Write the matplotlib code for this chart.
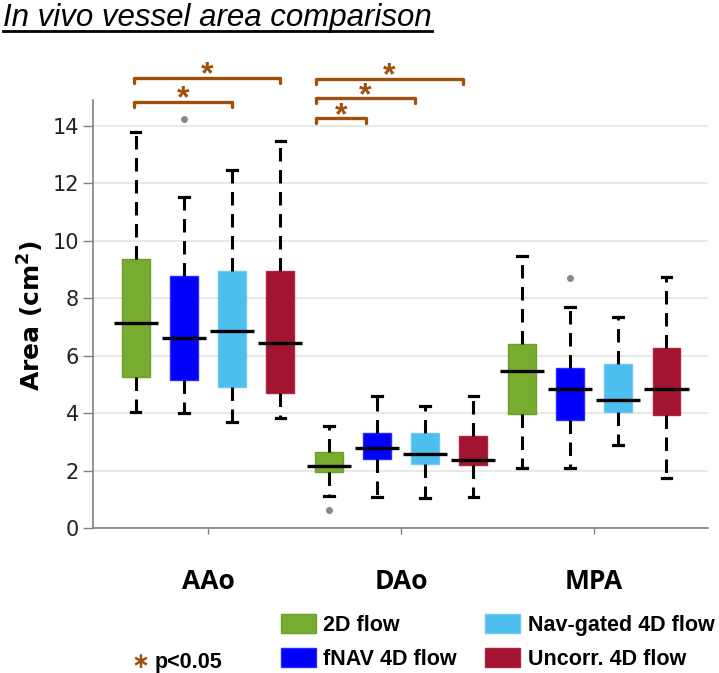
import matplotlib
matplotlib.use("Agg")
import matplotlib.pyplot as plt
from matplotlib.lines import Line2D
from matplotlib.patches import Rectangle

# ---------------- data ----------------
groups = ["AAo", "DAo", "MPA"]
series = ["2D flow", "fNAV 4D flow", "Nav-gated 4D flow", "Uncorr. 4D flow"]
colors = ["#77AC30", "#0000FF", "#4DBEEE", "#A2142F"]
edge_colors = ["#6C9E2A", "#2A2AFF", "#6CC8F0", "#B0243E"]

# per series: values for [AAo, DAo, MPA]
whislo = [[4.05, 1.10, 2.10], [4.00, 1.07, 2.10], [3.68, 1.03, 2.89], [3.82, 1.09, 1.75]]
q1 =     [[5.24, 1.95, 3.96], [5.14, 2.39, 3.76], [4.90, 2.24, 4.04], [4.69, 2.18, 3.94]]
med =    [[7.12, 2.15, 5.46], [6.63, 2.80, 4.85], [6.85, 2.57, 4.46], [6.43, 2.38, 4.85]]
q3 =     [[9.36, 2.66, 6.39], [8.77, 3.32, 5.56], [8.96, 3.30, 5.72], [8.95, 3.22, 6.28]]
whishi = [[13.79, 3.56, 9.48], [11.54, 4.59, 7.71], [12.47, 4.26, 7.33], [13.49, 4.59, 8.75]]
fliers = [[[], [0.62], []], [[14.24], [], [8.72]], [[], [], []], [[], [], []]]

yticks = [0, 2, 4, 6, 8, 10, 12, 14]

# significance brackets: (group index, series from, series to, level)
sig_brackets = [(0, 0, 2, 14.84), (0, 0, 3, 15.66),
                (1, 0, 1, 14.26), (1, 0, 2, 14.96), (1, 0, 3, 15.64)]
bracket_shift = [0.0, -0.055, 0.0]

# ---------------- layout ----------------
W, H = 719, 673
fig = plt.figure(figsize=(W / 100, H / 100), dpi=100)
ax = fig.add_axes([93 / W, 1 - 528 / H, (708 - 93) / W, (528 - 100) / H])

offsets = [-0.375, -0.125, 0.125, 0.375]
box_w = 0.145
med_w = 0.228
brown = "#9E500C"
px_per_unit = 28.71  # vertical pixels per data unit

for si in range(len(series)):
    stats = []
    pos = []
    for gi in range(len(groups)):
        stats.append(dict(med=med[si][gi], q1=q1[si][gi], q3=q3[si][gi],
                          whislo=whislo[si][gi], whishi=whishi[si][gi],
                          fliers=fliers[si][gi]))
        pos.append(gi + 1 + offsets[si])
    ax.bxp(stats, positions=pos, widths=box_w, patch_artist=True,
           capwidths=0.05,
           boxprops=dict(facecolor=colors[si], edgecolor=edge_colors[si], linewidth=1.0),
           whiskerprops=dict(color="black", linewidth=2.2, linestyle=(0, (4.4, 2.8))),
           capprops=dict(color="black", linewidth=2.3),
           medianprops=dict(linestyle="none"),
           flierprops=dict(marker="o", markersize=4, markerfacecolor="#888888",
                           markeredgecolor="#888888"),
           manage_ticks=False, zorder=3)
    ax.hlines(med[si], [p - med_w / 2 for p in pos], [p + med_w / 2 for p in pos],
              colors="black", linewidth=2.4, zorder=4)

ax.set_xlim(0.404, 3.59)
ax.set_ylim(0, 14.9)
ax.set_yticks(yticks)
ax.set_yticklabels([str(t) for t in yticks], fontsize=15, color="#222222",
                   family="DejaVu Sans")
ax.set_xticks([1, 2, 3])
ax.set_xticklabels(groups, fontsize=19, fontweight="bold", family="Open Sans")
ax.tick_params(axis="y", length=7, width=1, color="#808080", pad=3)
ax.tick_params(axis="x", length=4, width=1, color="#808080", pad=25)
ax.yaxis.grid(True, color="#E4E4E4", linewidth=1.2, zorder=0)
ax.set_axisbelow(True)
for s in ["top", "right"]:
    ax.spines[s].set_visible(False)
for s in ["left", "bottom"]:
    ax.spines[s].set_color("#808080")
    ax.spines[s].set_linewidth(1.2)

# significance brackets
tick_h = 0.17
star_fs = 23
for gi, a, b, lev in sig_brackets:
    x0 = gi + 1 + offsets[a] + bracket_shift[gi] - 0.01
    x1 = gi + 1 + offsets[b] + bracket_shift[gi]
    ax.plot([x0, x0, x1, x1], [lev - tick_h, lev, lev, lev - tick_h], color=brown,
            linewidth=2.4, clip_on=False, solid_joinstyle="round",
            solid_capstyle="round", zorder=5)
    ax.text((x0 + x1) / 2, lev - 5.5 / px_per_unit, "*", color=brown,
            fontsize=star_fs, fontweight="bold", family="Liberation Sans",
            ha="center", va="baseline", clip_on=False)

# y label
fig.text(31 / W, 1 - 316 / H, r"Area (cm$^{\mathbf{2}}$)", rotation=90, fontsize=18,
         fontweight="bold", ha="center", va="center", family="DejaVu Sans")

# title with underline
t = fig.text(3 / W, 1 - 26 / H, "In vivo vessel area comparison", fontsize=22.5,
             style="italic", family="Liberation Sans", ha="left", va="baseline")
fig.canvas.draw()
bb = t.get_window_extent()
fig.add_artist(Line2D([3 / W, bb.x1 / W], [1 - 31 / H, 1 - 31 / H],
                      color="black", linewidth=2.0, transform=fig.transFigure))

# legend (manual)
leg_rows = [623, 657]
leg_cols_patch = [281, 485]
leg_cols_text = [323, 528]
legend_order = [(0, 0, 0), (2, 0, 1), (1, 1, 0), (3, 1, 1)]
for si, r, c in legend_order:
    fig.add_artist(Rectangle((leg_cols_patch[c] / W, 1 - (leg_rows[r] + 9.5) / H),
                             35 / W, 19 / H, facecolor=colors[si],
                             edgecolor=edge_colors[si], linewidth=1,
                             transform=fig.transFigure))
    fig.text(leg_cols_text[c] / W, 1 - leg_rows[r] / H, series[si], fontsize=15.5,
             fontweight="bold", family="Liberation Sans", ha="left", va="center_baseline")

fig.text(140 / W, 1 - 667.5 / H, "\u2217", color=brown, fontsize=15.5,
         fontweight="bold", family="DejaVu Sans", ha="center", va="baseline")
fig.text(155 / W, 1 - 660 / H, "p<0.05", fontsize=15.5, fontweight="bold",
         family="Liberation Sans", ha="left", va="center_baseline")

fig.savefig("out.png", dpi=100)
